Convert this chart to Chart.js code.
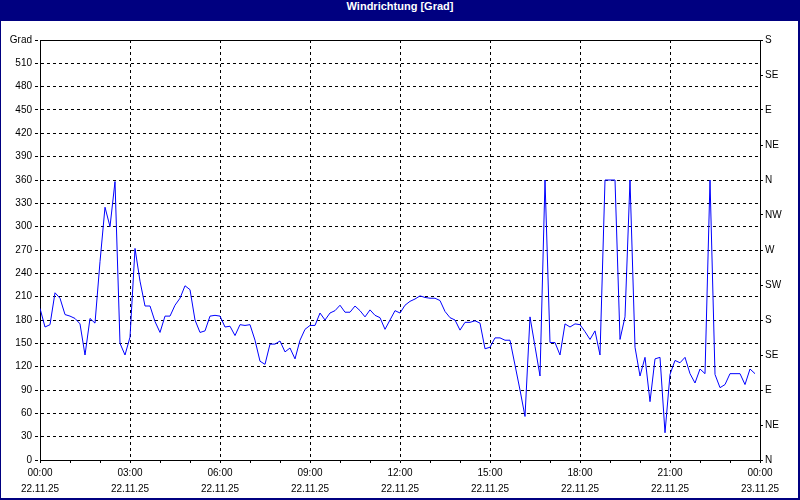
<!DOCTYPE html>
<html>
<head>
<meta charset="utf-8">
<script src="https://cdn.jsdelivr.net/npm/chart.js@4/dist/chart.umd.min.js"></script>
<style>
  body { margin: 0; background: #fff; }
  #wrap { position: relative; width: 800px; height: 500px; overflow: hidden; }
  #chart { position: absolute; left: 0; top: 0; }
  #title {
    position: absolute; left: 0; top: 0; width: 800px; height: 21px;
    background: #000080; color: #fff; text-align: center; line-height: 20px;
    font: bold 11px 'Liberation Sans', Arial, sans-serif;
  }
  #frame {
    position: absolute; left: 0; top: 0; width: 800px; height: 500px; box-sizing: border-box;
    border-left: 1px solid #000080; border-right: 2px solid #000080; border-bottom: 2px solid #000080;
    pointer-events: none;
  }
</style>
</head>
<body>
<div id="wrap">
  <canvas id="chart" width="800" height="500"></canvas>
  <div id="title">Windrichtung [Grad]</div>
  <div id="frame"></div>
</div>
<script>
// Windrichtung alle 10 Minuten (22.11.25 00:00 - 23:50)
const directions = [
  195, 171, 174, 215, 208, 187, 185, 182, 175, 135,
  182, 176, 255, 325, 300, 358, 150, 135, 158, 272,
  230, 198, 198, 178, 164, 185, 185, 199, 208, 224,
  219, 180, 164, 166, 185, 186, 185, 171, 172, 160,
  174, 173, 174, 154, 127, 123, 149, 149, 153, 139,
  144, 130, 154, 168, 173, 173, 189, 180, 189, 192,
  199, 190, 190, 198, 192, 184, 193, 186, 183, 168,
  180, 192, 189, 199, 204, 207, 211, 209, 208, 208,
  205, 191, 183, 180, 167, 177, 177, 179, 176, 143,
  145, 157, 157, 154, 154, 122, 90, 56, 184, 146,
  108, 360, 151, 151, 135, 175, 171, 175, 174, 165,
  155, 166, 135, 360, 360, 360, 155, 184, 360, 145,
  108, 132, 75, 130, 132, 35, 110, 128, 125, 132,
  111, 99, 117, 111, 360, 110, 93, 97, 111, 111,
  111, 97, 117, 111
];

// Zeitpunkte in Minuten ab 00:00
const minutes = directions.map((_, i) => i * 10);

// Achsenbeschriftungen
const xTickTimes = ['00:00', '03:00', '06:00', '09:00', '12:00', '15:00', '18:00', '21:00', '00:00'];
const xTickDates = ['22.11.25', '22.11.25', '22.11.25', '22.11.25', '22.11.25', '22.11.25', '22.11.25', '22.11.25', '23.11.25'];
const compassLabels = ['N', 'NE', 'E', 'SE', 'S', 'SW', 'W', 'NW', 'N', 'NE', 'E', 'SE', 'S'];

Chart.defaults.font.family = "'Liberation Sans', Arial, sans-serif";
Chart.defaults.font.size = 10;
Chart.defaults.color = '#000';

new Chart(document.getElementById('chart'), {
  type: 'line',
  data: {
    datasets: [{
      data: directions.map((v, i) => ({ x: minutes[i], y: v })),
      borderColor: '#0000ff',
      borderWidth: 1,
      pointRadius: 0,
      tension: 0,
      fill: false,
      yAxisID: 'y'
    }]
  },
  options: {
    responsive: false,
    animation: false,
    layout: { padding: { top: 40, left: 0, right: 0, bottom: 0 } },
    plugins: { legend: { display: false }, tooltip: { enabled: false } },
    scales: {
      x: {
        type: 'linear',
        min: 0,
        max: 1440,
        afterFit: (scale) => { scale.height = 40; },
        border: { color: '#000', width: 1, dash: [3, 3] },
        grid: {
          color: (ctx) => (ctx.tick && ctx.tick.value % 180 === 0) ? '#000' : 'rgba(0,0,0,0)',
          tickColor: '#000',
          tickLength: 3,
          tickBorderDash: []
        },
        ticks: {
          stepSize: 60,
          autoSkip: false,
          maxRotation: 0,
          padding: 2,
          font: { lineHeight: 1.6 },
          callback: (value) => value % 180 === 0 ? [xTickTimes[value / 180], xTickDates[value / 180]] : ''
        }
      },
      y: {
        position: 'left',
        min: 0,
        max: 540,
        afterFit: (scale) => { scale.width = 40; },
        border: { color: '#000', width: 1, dash: (ctx) => (ctx.tick && ctx.tick.value === 540) ? [] : [3, 3] },
        grid: {
          color: '#000',
          tickColor: '#000',
          tickLength: 5,
          tickBorderDash: [3, 3]
        },
        ticks: {
          stepSize: 30,
          padding: 3,
          callback: (value) => value === 540 ? 'Grad' : value
        }
      },
      y2: {
        position: 'right',
        min: 0,
        max: 540,
        afterFit: (scale) => { scale.width = 40; },
        border: { color: '#000', width: 1 },
        grid: {
          drawOnChartArea: false,
          tickColor: '#000',
          tickLength: 3
        },
        ticks: {
          stepSize: 45,
          padding: 2,
          callback: (value, index) => compassLabels[index]
        }
      }
    }
  }
});
</script>
</body>
</html>
